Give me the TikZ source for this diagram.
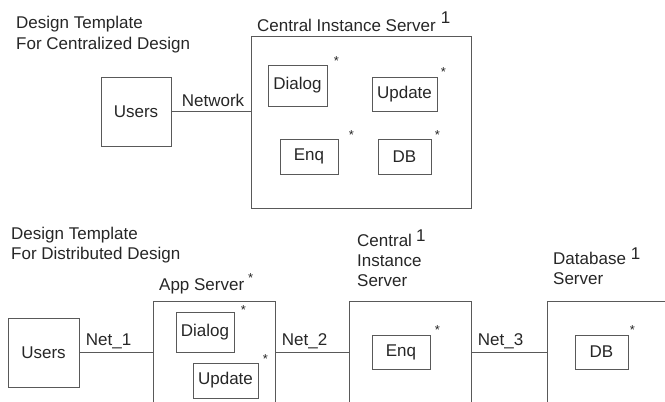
\documentclass[tikz,border=0pt]{standalone}
\usepackage{fontspec}
\setmainfont{Liberation Sans}
\usetikzlibrary{positioning}

\begin{document}
\begin{tikzpicture}[x=1pt, y=-1pt,
  every node/.style={font=\fontsize{17}{20}\selectfont, text=black!85},
  box/.style={draw=black!65, line width=0.9pt, inner sep=0pt},
  link/.style={draw=black!65, line width=0.9pt},
  caption/.style={inner sep=0pt, anchor=north west, align=left},
  netlabel/.style={pos=0, inner sep=0pt, anchor=base west, xshift=6pt, yshift=7.5pt},
  asterisk/.style={inner sep=0pt, anchor=center, yshift=-2.8pt, font=\fontsize{13}{15}\selectfont}]
\useasboundingbox (0,0) rectangle (665,402);
\clip (0,0) rectangle (665,402);

% centralized design
\node[caption, font=\fontsize{17}{21}\selectfont] (title1) at (16,16) {Design Template\\For Centralized Design};
\node[box, minimum width=70pt, minimum height=69pt] (users) at (136,111.5) {Users};
\node[box, minimum width=220pt, minimum height=172pt] (cis) at (361,122) {};
\node[inner sep=0pt, anchor=base west] (cislabel) at (257,31) {Central Instance Server\hspace{5pt}\raisebox{8pt}{1}};
\node[box, minimum width=59pt, minimum height=41pt] (dlg) at (297.5,85.5) {Dialog};
\node[box, minimum width=65pt, minimum height=34pt] (upd) at (404.5,94) {Update};
\node[box, minimum width=58pt, minimum height=35pt] (enq) at (309,156.5) {Enq};
\node[box, minimum width=53pt, minimum height=35pt] (db) at (404.5,156.5) {DB};
\node[above right=6pt and 9pt of dlg.north east, asterisk] (dlgstar) {*};
\node[above right=7pt and 6pt of upd.north east, asterisk] (updstar) {*};
\node[above right=6pt and 13pt of enq.north east, asterisk] (enqstar) {*};
\node[above right=6pt and 6pt of db.north east, asterisk] (dbstar) {*};
\draw[link] (users.east) -- node[netlabel, xshift=4pt, yshift=-2.5pt] {Network} (users.east -| cis.west);

% distributed design
\node[caption] (title2) at (11,227) {Design Template\\For Distributed Design};
\node[box, minimum width=71pt, minimum height=69pt] (users2) at (43.5,352.5) {Users};
\node[box, minimum width=122pt, minimum height=129pt] (app) at (214,365.5) {};
\node[inner sep=0pt, anchor=base west] (applabel) at (159,290) {App Server\hspace{4pt}\raisebox{8pt}{\fontsize{13}{15}\selectfont *}};
\node[box, minimum width=58pt, minimum height=40pt] (dlg2) at (205,332) {Dialog};
\node[box, minimum width=65pt, minimum height=35pt] (upd2) at (225.5,380.5) {Update};
\node[box, minimum width=122pt, minimum height=129pt] (cis2) at (410,365.5) {};
\node[caption] (cis2label) at (357,230) {Central\hspace{4pt}\raisebox{4.5pt}{1}\\Instance\\Server};
\node[box, minimum width=58pt, minimum height=34pt] (enq2) at (401,352) {Enq};
\node[box, minimum width=153pt, minimum height=129pt] (dbs) at (623.5,365.5) {};
\node[caption] (dbslabel) at (553,248) {Database\hspace{5pt}\raisebox{5pt}{1}\\Server};
\node[box, minimum width=53pt, minimum height=34pt] (db2) at (601.5,352) {DB};
\node[above right=4pt and 9pt of dlg2.north east, asterisk] (dlg2star) {*};
\node[above right=6pt and 7pt of upd2.north east, asterisk] (upd2star) {*};
\node[above right=7pt and 7pt of enq2.north east, asterisk] (enq2star) {*};
\node[above right=7pt and 4pt of db2.north east, asterisk] (db2star) {*};
\draw[link] (users2.east) -- node[netlabel] {Net\_1} (users2.east -| app.west);
\draw[link] (app.east |- users2.east) -- node[netlabel] {Net\_2} (cis2.west |- users2.east);
\draw[link] (cis2.east |- users2.east) -- node[netlabel] {Net\_3} (dbs.west |- users2.east);
\end{tikzpicture}
\end{document}
